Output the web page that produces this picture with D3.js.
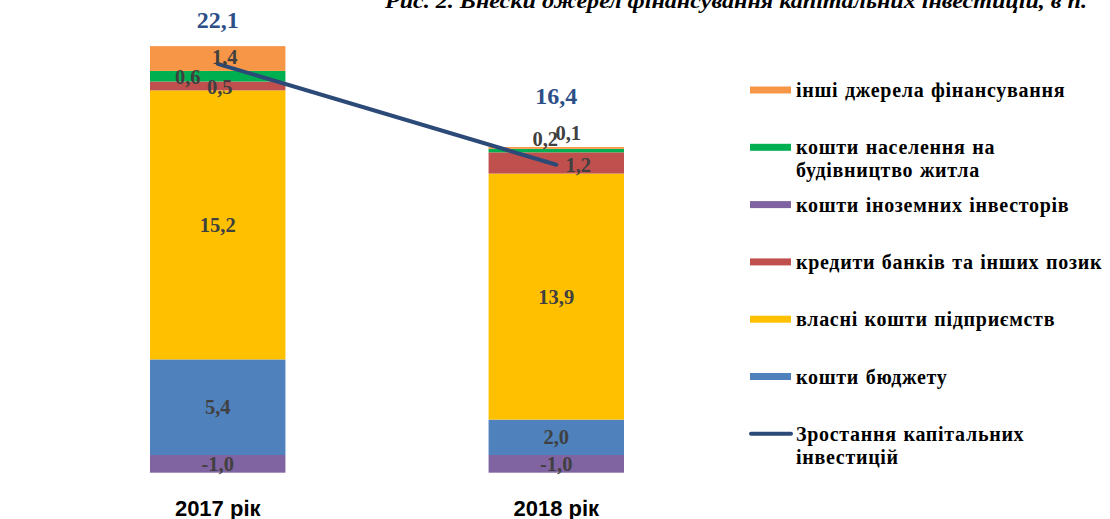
<!DOCTYPE html>
<html><head><meta charset="utf-8">
<script src="https://cdn.jsdelivr.net/npm/d3@7"></script>
<style>
html,body{margin:0;padding:0;background:#fff;} svg{display:block;}
.serif{font-family:'Liberation Serif','Times New Roman',serif;}
.sans{font-family:'Liberation Sans',Arial,sans-serif;}
</style>
</head><body>
<svg id="c" width="1110" height="519"></svg>
<script>
// ---- data ----
const categories = ["2017 рік", "2018 рік"];
const seriesNames = [
  "кошти бюджету",
  "власні кошти підприємств",
  "кредити банків та інших позик",
  "кошти населення на будівництво житла",
  "інші джерела фінансування",
  "кошти іноземних інвесторів"
];
const budget     = [5.4, 2.0];
const ownFunds   = [15.2, 13.9];
const bankCredit = [0.5, 1.2];
const population = [0.6, 0.2];
const otherSrc   = [1.4, 0.1];
const foreign    = [-1.0, -1.0];
const growth     = [22.1, 16.4];
const lineName   = "Зростання капітальних інвестицій";
const yTicks     = [0, 5, 10, 15, 20, 25];
const titleText  = "Рис. 2. Внески джерел фінансування капітальних інвестицій, в п.";

// ---- styles ----
const colors = ["#4F81BD", "#FFC000", "#C0504D", "#00B050", "#F79646", "#8064A2"];
const lineColor = "#2C4A78";

const svg = d3.select("#c");
const x = d3.scaleBand().domain(categories).range([150, 624]).paddingInner(0.6).paddingOuter(0);
const y = d3.scaleLinear().domain([0, 25]).range([455, 12.5]);

const seriesVals = [budget, ownFunds, bankCredit, population, otherSrc, foreign];
const table = categories.map((c, i) => {
  const o = {cat: c};
  seriesNames.forEach((s, k) => o[s] = seriesVals[k][i]);
  return o;
});
const stack = d3.stack().keys(seriesNames).offset(d3.stackOffsetDiverging);
const stacked = stack(table);

// y axis labels (no line)
const clip = svg.append("defs").append("clipPath").attr("id", "ax");
clip.append("rect").attr("x", 0).attr("y", 13).attr("width", 100).attr("height", 500);
const yAxis = svg.append("g").attr("transform", "translate(31,0)").attr("clip-path", "url(#ax)")
  .call(d3.axisLeft(y).tickValues(yTicks).tickSize(0).tickPadding(0).tickFormat(d3.format("d")));
yAxis.select(".domain").remove();
yAxis.selectAll("text").attr("font-family", null).attr("class", "sans")
  .attr("font-size", 14.5).attr("fill", "#595959");

// bars
const g = svg.append("g");
stacked.forEach((layer, k) => {
  g.selectAll(null).data(layer).enter().append("rect")
    .attr("x", d => x(d.data.cat))
    .attr("width", x.bandwidth())
    .attr("y", d => y(Math.max(d[0], d[1])))
    .attr("height", d => Math.abs(y(d[0]) - y(d[1])))
    .attr("fill", colors[k]);
});

// line
const line = d3.line().x((d, i) => x(categories[i]) + x.bandwidth() / 2).y(d => y(d));
svg.append("path").datum(growth).attr("d", line).attr("fill", "none")
  .attr("stroke", lineColor).attr("stroke-width", 4).attr("stroke-linecap", "round");

// segment labels
const fmt = v => d3.format(".1f")(v).replace(".", ",").replace("\u2212", "-");
// label nudges per series [cat0, cat1] as [dx, dy]
const nudges = [
  [[0, 0], [0, 0]],
  [[0, 0], [0, 0]],
  [[2, 1], [22, 2]],
  [[-30, 1], [-11, -12]],
  [[7, -2], [12, -15]],
  [[0, 0], [0, 0]]
];
stacked.forEach((layer, k) => {
  layer.forEach((d, i) => {
    const cx = x(d.data.cat) + x.bandwidth() / 2 + nudges[k][i][0];
    const cy = y((d[0] + d[1]) / 2) + nudges[k][i][1];
    svg.append("text").attr("class", "serif").attr("x", cx).attr("y", cy).attr("dy", "0.35em")
      .attr("text-anchor", "middle")
      .attr("font-weight", "bold").attr("font-size", 20.5).attr("fill", "#404040")
      .text(fmt(seriesVals[k][i]));
  });
});

// growth labels
const growthOffsets = [-44, -69];
growth.forEach((v, i) => {
  svg.append("text").attr("class", "serif").attr("x", x(categories[i]) + x.bandwidth() / 2)
    .attr("y", y(v) + growthOffsets[i]).attr("dy", "0.35em").attr("text-anchor", "middle")
    .attr("font-weight", "bold").attr("font-size", 24).attr("fill", "#2C4F88")
    .text(fmt(v));
});

// x labels
categories.forEach(c => {
  svg.append("text").attr("class", "sans").attr("x", x(c) + x.bandwidth() / 2).attr("y", 516)
    .attr("text-anchor", "middle")
    .attr("font-weight", "bold").attr("font-size", 22).attr("fill", "#000")
    .text(c);
});

// title
svg.append("text").attr("class", "serif").attr("x", 385).attr("y", 8)
  .attr("font-weight", "bold").attr("font-style", "italic").attr("font-size", 21)
  .attr("textLength", 702).attr("lengthAdjust", "spacingAndGlyphs")
  .attr("fill", "#000").text(titleText);

// legend
const legendItems = [
  {name: ["інші джерела фінансування"], color: colors[4]},
  {name: ["кошти населення на", "будівництво житла"], color: colors[3]},
  {name: ["кошти іноземних інвесторів"], color: colors[5]},
  {name: ["кредити банків та інших позик"], color: colors[2]},
  {name: ["власні кошти підприємств"], color: colors[1]},
  {name: ["кошти бюджету"], color: colors[0]},
  {name: ["Зростання капітальних", "інвестицій"], color: lineColor, line: true}
];
const lg = svg.append("g");
legendItems.forEach((it, i) => {
  const yy = 90 + i * 57.3;
  if (it.line) {
    lg.append("line").attr("x1", 751).attr("x2", 791).attr("y1", yy).attr("y2", yy)
      .attr("stroke", it.color).attr("stroke-width", 4).attr("stroke-linecap", "round");
  } else {
    lg.append("rect").attr("x", 750).attr("y", yy - 3.5).attr("width", 41).attr("height", 7)
      .attr("fill", it.color);
  }
  it.name.forEach((t, j) => {
    lg.append("text").attr("class", "serif").attr("x", 796).attr("y", yy + j * 23).attr("dy", "0.35em")
      .attr("font-weight", "bold").attr("font-size", 20).attr("fill", "#000")
      .attr("letter-spacing", 0.7).attr("word-spacing", 1).text(t);
  });
});
</script>
</body></html>
